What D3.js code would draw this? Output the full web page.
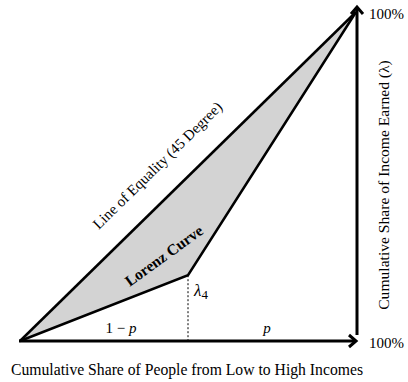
<!DOCTYPE html>
<html>
<head>
<meta charset="utf-8">
<script src="https://cdn.jsdelivr.net/npm/d3@7"></script>
<style>
  html, body { margin: 0; padding: 0; background: #fff; }
  svg { display: block; }
</style>
</head>
<body>
<svg id="chart" width="408" height="382"></svg>
<script>
// Cumulative share of people (x) and of income earned (y)
const populationShare = [0, 0.5, 1];
const lorenzShare = [0, 0.2, 1];
const equalityShare = [0, 1];
const kinkIndex = 1;
const endLabels = ["100%", "100%"];
const xTitle = "Cumulative Share of People from Low to High Incomes";
const yTitle = "Cumulative Share of Income Earned (\u03BB)";

const serif = "'Liberation Serif', 'Times New Roman', Times, serif";

const svg = d3.select("#chart")
  .style("font-family", serif);
const x = d3.scaleLinear().domain([0, 1]).range([20, 356]);
const y = d3.scaleLinear().domain([0, 1]).range([341, 12]);

const lorenzPts = populationShare.map((p, i) => [p, lorenzShare[i]]);
const equalityPts = equalityShare.map(v => [v, v]);

const line = d3.line().x(d => x(d[0])).y(d => y(d[1]));

// Shaded area between the line of equality and the Lorenz curve
const regionPts = equalityPts.concat(lorenzPts.slice().reverse());
svg.append("path")
  .attr("d", line(regionPts) + "Z")
  .attr("fill", "#d3d3d3")
  .attr("stroke", "none");

// Dashed drop line from the kink of the Lorenz curve
const kx = x(populationShare[kinkIndex]);
svg.append("line")
  .attr("x1", kx).attr("x2", kx)
  .attr("y1", y(lorenzShare[kinkIndex])).attr("y2", y(0))
  .attr("stroke", "#000").attr("stroke-width", 1)
  .attr("stroke-dasharray", "2,2");

// Line of equality
svg.append("path")
  .attr("d", line(equalityPts))
  .attr("fill", "none").attr("stroke", "#000").attr("stroke-width", 2.5);

// Lorenz curve
svg.append("path")
  .attr("d", line(lorenzPts))
  .attr("fill", "none").attr("stroke", "#000").attr("stroke-width", 2.5)
  .attr("stroke-linejoin", "miter");

// Axes with arrowheads
const axisW = 3;
svg.append("line")
  .attr("x1", x(0) - 1).attr("x2", x(1) - 1)
  .attr("y1", y(0)).attr("y2", y(0))
  .attr("stroke", "#000").attr("stroke-width", axisW);
svg.append("line")
  .attr("x1", x(1) + 1).attr("x2", x(1) + 1)
  .attr("y1", y(0) - 6).attr("y2", y(1) - 4)
  .attr("stroke", "#000").attr("stroke-width", axisW);

svg.append("path")
  .attr("d", `M${x(1) - 7},${y(0) - 6} L${x(1)},${y(0)} L${x(1) - 7},${y(0) + 6}`)
  .attr("fill", "none").attr("stroke", "#000").attr("stroke-width", axisW)
  .attr("stroke-linejoin", "miter");
svg.append("path")
  .attr("d", `M${x(1) - 5},${y(1) + 2} L${x(1) + 1},${y(1) - 5} L${x(1) + 7},${y(1) + 2}`)
  .attr("fill", "none").attr("stroke", "#000").attr("stroke-width", axisW)
  .attr("stroke-linejoin", "miter");

// End labels
svg.append("text").attr("x", x(1) + 13).attr("y", 19)
  .attr("font-size", 15).text(endLabels[0]);
svg.append("text").attr("x", x(1) + 13).attr("y", 348)
  .attr("font-size", 15).text(endLabels[1]);

// Axis titles
svg.append("text")
  .attr("x", 187).attr("y", 375)
  .attr("text-anchor", "middle").attr("font-size", 15.7)
  .text(xTitle);
svg.append("text")
  .attr("transform", `translate(389,185) rotate(-90)`)
  .attr("text-anchor", "middle").attr("font-size", 15.6)
  .text(yTitle);

// Line labels
svg.append("text")
  .attr("transform", `translate(161,169) rotate(-44.4)`)
  .attr("text-anchor", "middle").attr("font-size", 15)
  .text("Line of Equality (45 Degree)");
svg.append("text")
  .attr("transform", `translate(167,260) rotate(-36)`)
  .attr("text-anchor", "middle").attr("font-size", 15.5)
  .attr("font-weight", "bold")
  .text("Lorenz Curve");

// Segment labels
const lam = svg.append("text")
  .attr("x", kx + 6).attr("y", 296)
  .attr("font-size", 17);
lam.append("tspan").attr("font-style", "italic").text("\u03BB");
lam.append("tspan").attr("font-size", 13).attr("dy", 3).text("4");

const leftLab = svg.append("text")
  .attr("x", 121).attr("y", 333)
  .attr("text-anchor", "middle").attr("font-size", 15);
leftLab.append("tspan").text("1 \u2212 ");
leftLab.append("tspan").attr("font-style", "italic").text("p");

svg.append("text")
  .attr("x", 267).attr("y", 333)
  .attr("text-anchor", "middle").attr("font-size", 15)
  .attr("font-style", "italic").text("p");
</script>
</body>
</html>
